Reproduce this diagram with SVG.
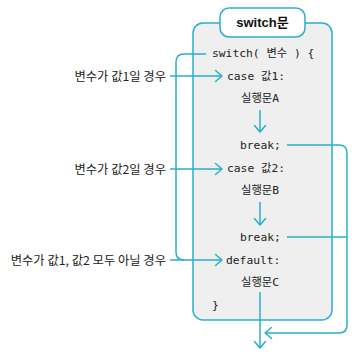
<svg xmlns="http://www.w3.org/2000/svg" width="357" height="357" viewBox="0 0 357 357">
<defs>
<marker id="arr" markerUnits="userSpaceOnUse" markerWidth="16" markerHeight="16" viewBox="-9 -8 11 16" refX="0" refY="0" orient="auto">
<path d="M-6.5,-5.5 L0,0 L-6.5,5.5" fill="none" stroke="#2aafcb" stroke-width="1.5" stroke-linecap="round" stroke-linejoin="round"/>
</marker>
</defs>
<style>
.code{font-family:"DejaVu Sans Mono","Noto Sans CJK KR",monospace;font-size:11.3px;fill:#222}
.lbl{font-family:"Noto Sans CJK KR","Noto Sans",sans-serif;font-size:12.3px;fill:#222}
.ln{fill:none;stroke:#2aafcb;stroke-width:1.5}
</style>
<g id="switch-box">
<rect x="193" y="23" width="139" height="297" rx="10" fill="#efefef" stroke="#2aafcb" stroke-width="1.5"/>
</g>
<g id="title">
<rect x="220" y="8" width="85" height="29" rx="9" fill="#ffffff" stroke="#2aafcb" stroke-width="1.5"/>
<text x="262.5" y="27" text-anchor="middle" style="font-family:'Liberation Sans','Noto Sans CJK KR',sans-serif;font-size:13px;font-weight:bold;fill:#111">switch문</text>
</g>
<g id="code">
<text class="code" x="212" y="57">switch( 변수 ) {</text>
<text class="code" x="227" y="80">case 값1:</text>
<text class="code" x="260" y="102" text-anchor="middle">실행문A</text>
<text class="code" x="240" y="149">break;</text>
<text class="code" x="227" y="172">case 값2:</text>
<text class="code" x="260" y="194" text-anchor="middle">실행문B</text>
<text class="code" x="240" y="241">break;</text>
<text class="code" x="226" y="264">default:</text>
<text class="code" x="260" y="286" text-anchor="middle">실행문C</text>
<text class="code" x="212" y="309">}</text>
</g>
<g id="labels">
<text class="lbl" x="166" y="80.5" text-anchor="end">변수가 값1일 경우</text>
<text class="lbl" x="166" y="173.5" text-anchor="end">변수가 값2일 경우</text>
<text class="lbl" x="166" y="264.5" text-anchor="end">변수가 값1, 값2 모두 아닐 경우</text>
</g>
<g id="connectors">
<path class="ln" d="M206,54 H184 Q176,54 176,62 V252 Q176,260 184,260"/>
<path class="ln" d="M170,76 H222" marker-end="url(#arr)"/>
<path class="ln" d="M170,169 H222" marker-end="url(#arr)"/>
<path class="ln" d="M170,260 H222" marker-end="url(#arr)"/>
<path class="ln" d="M260,110 V132" marker-end="url(#arr)"/>
<path class="ln" d="M260,202 V225" marker-end="url(#arr)"/>
<path class="ln" d="M260,292 V348" marker-end="url(#arr)"/>
<path class="ln" d="M287,145 H339 Q347,145 347,153 V325 Q347,333 339,333 H265" marker-end="url(#arr)"/>
<path class="ln" d="M287,237 H347"/>
</g>
</svg>
